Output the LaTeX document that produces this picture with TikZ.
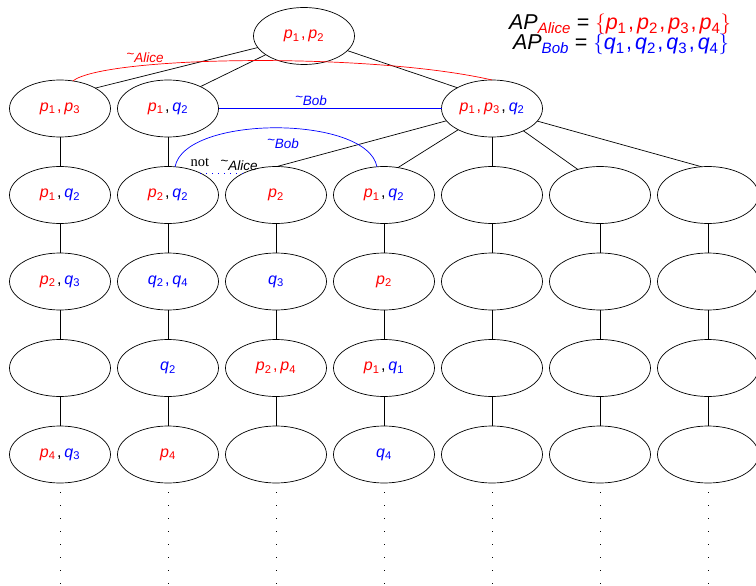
\documentclass[tikz,border=0pt]{standalone}
\usepackage{fontspec}
\usepackage{amsmath}
\setmainfont{Liberation Sans}
\newfontfamily\serifnot{Liberation Serif}
\usetikzlibrary{shapes.geometric}
\newcommand\pa[1]{\textcolor{red}{\textit{p}$_{\text{#1}}$}}
\newcommand\qb[1]{\textcolor{blue}{\textit{q}$_{\text{#1}}$}}
\newcommand\cmm[1][black]{\textcolor{#1}{\kern1.5pt,\kern3pt}}
\newcommand\tld{\raisebox{0.3em}{\textasciitilde}}
\begin{document}
\begin{tikzpicture}[x=1pt,y=-1pt,
  st/.style={ellipse, draw, line width=0.7pt, minimum width=101pt, minimum height=57pt, inner sep=0pt, outer sep=0pt, font=\fontsize{16}{19}\selectfont},
  edge/.style={line width=0.7pt},
  elabel/.style={anchor=base, inner sep=0pt, font=\fontsize{13.5}{15}\selectfont\itshape},
  dots/.style={line width=1pt, dash pattern=on 1pt off 12pt},
  aplab/.style={anchor=base, inner sep=0pt, font=\fontsize{21.5}{24}\selectfont}]
\useasboundingbox (0,0) rectangle (756,586);
% top
\node[st] (top) at (304,36) {\pa1\cmm[red]\pa2};
% row 1
\node[st] (r1c1) at (60,108.5) {\pa1\cmm[red]\pa3};
\node[st] (r1c2) at (168,108.5) {\pa1\cmm\qb2};
\node[st] (r1c5) at (492,108.5) {\pa1\cmm[red]\pa3\cmm\qb2};
% row 2
\node[st] (r2c1) at (60,195) {\pa1\cmm\qb2};
\node[st] (r2c2) at (168,195) {\pa2\cmm\qb2};
\node[st] (r2c3) at (276,195) {\pa2};
\node[st] (r2c4) at (384,195) {\pa1\cmm\qb2};
\node[st] (r2c5) at (492,195) {};
\node[st] (r2c6) at (600,195) {};
\node[st] (r2c7) at (708,195) {};
% row 3
\node[st] (r3c1) at (60,281.5) {\pa2\cmm\qb3};
\node[st] (r3c2) at (168,281.5) {\qb2\cmm[blue]\qb4};
\node[st] (r3c3) at (276,281.5) {\qb3};
\node[st] (r3c4) at (384,281.5) {\pa2};
\node[st] (r3c5) at (492,281.5) {};
\node[st] (r3c6) at (600,281.5) {};
\node[st] (r3c7) at (708,281.5) {};
% row 4
\node[st] (r4c1) at (60,368) {};
\node[st] (r4c2) at (168,368) {\qb2};
\node[st] (r4c3) at (276,368) {\pa2\cmm[red]\pa4};
\node[st] (r4c4) at (384,368) {\pa1\cmm\qb1};
\node[st] (r4c5) at (492,368) {};
\node[st] (r4c6) at (600,368) {};
\node[st] (r4c7) at (708,368) {};
% row 5
\node[st] (r5c1) at (60,454.5) {\pa4\cmm\qb3};
\node[st] (r5c2) at (168,454.5) {\pa4};
\node[st] (r5c3) at (276,454.5) {};
\node[st] (r5c4) at (384,454.5) {\qb4};
\node[st] (r5c5) at (492,454.5) {};
\node[st] (r5c6) at (600,454.5) {};
\node[st] (r5c7) at (708,454.5) {};
% edges from top
\draw[edge] (top) -- (r1c1.30);
\draw[edge] (top) -- (r1c2.34);
\draw[edge] (top) -- (r1c5.149);
% edges from r1c5
\draw[edge] (r1c5) -- (r2c3.88);
\draw[edge] (r1c5) -- (r2c4.63);
\draw[edge] (r1c5) -- (r2c5);
\draw[edge] (r1c5) -- (r2c6.131);
\draw[edge] (r1c5) -- (r2c7.103);
% vertical edges
\draw[edge] (r1c1) -- (r2c1);
\draw[edge] (r1c2) -- (r2c2);
\foreach \c in {1,...,7}{
  \draw[edge] (r2c\c) -- (r3c\c);
  \draw[edge] (r3c\c) -- (r4c\c);
  \draw[edge] (r4c\c) -- (r5c\c);
  \draw[dots] (r5c\c.south) ++(0,9) -- ++(0,92);
}
% relation arcs
\draw[red, line width=0.7pt] (r1c1.65) .. controls +(32,-25) and +(-122,-28) .. (r1c5.north);
\node[elabel, red] (la) at (145,63) {\tld Alice};
\draw[blue, line width=0.8pt] (r1c2) -- (r1c5);
\node[elabel, blue] (lb1) at (311,106) {\tld Bob};
\draw[blue, line width=0.7pt] (r2c2.76) .. controls +(10,-52) and +(-10,-52) .. (r2c4.104);
\node[elabel, blue] (lb2) at (283,149) {\tld Bob};
\draw[blue, line width=0.9pt, dash pattern=on 1pt off 5pt] (r2c2.34) -- (r2c3.146);
\node[anchor=base, inner sep=0pt, font=\fontsize{14.5}{16}\serifnot] (lnot) at (200,166.5) {not};
\node[elabel] (lna) at (239,170) {\tld Alice};
% AP sets
\node[aplab] (apa) at (620,30) {\textit{AP}$_{\text{\color{red}\itshape Alice}}$ = \textcolor{red}{$\{$\pa1\cmm[red]\pa2\cmm[red]\pa3\cmm[red]\pa4$\}$}};
\node[aplab] (apb) at (621,50) {\textit{AP}$_{\text{\color{blue}\itshape Bob}}$ = \textcolor{blue}{$\{$\qb1\cmm[blue]\qb2\cmm[blue]\qb3\cmm[blue]\qb4$\}$}};
\end{tikzpicture}
\end{document}
